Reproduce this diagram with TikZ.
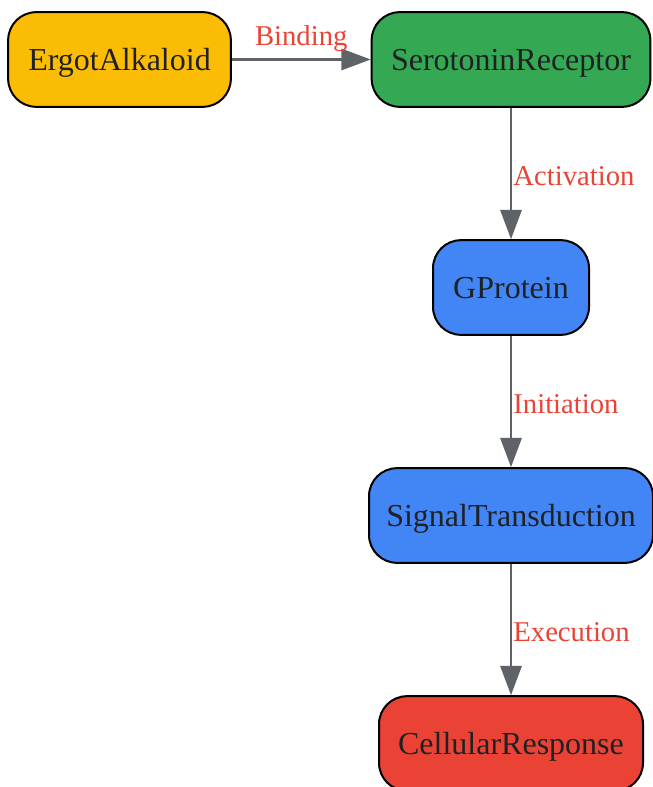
\documentclass[tikz,border=0pt]{standalone}
\usepackage{fontspec}
\setmainfont{Liberation Serif}
\usetikzlibrary{arrows.meta}

\definecolor{ergotyellow}{HTML}{FBBC05}
\definecolor{receptorgreen}{HTML}{34A853}
\definecolor{proteinblue}{HTML}{4285F4}
\definecolor{responsered}{HTML}{EA4335}
\definecolor{edgegray}{HTML}{5F6368}
\definecolor{labelred}{HTML}{EA4335}
\definecolor{txtdark}{HTML}{202124}

\tikzset{every picture/.style={line width=0.75pt}}

\begin{document}
\begin{tikzpicture}[x=0.75pt,y=0.75pt,yscale=-1,xscale=1,
  stepbox/.style={draw=black, line width=1.5pt, rounded corners=21pt, minimum height=71pt, inner sep=0pt, text depth=0pt, text=txtdark, font=\fontsize{24}{28}\selectfont},
  flow/.style={draw=edgegray, line width=1.6pt, -{Triangle[length=22pt,width=16pt]}},
  flowlabel/.style={text=labelred, inner sep=0.5pt, text depth=0pt, font=\fontsize{21.5}{24}\selectfont}]
%set diagram left start at 0, and has height of 787
\useasboundingbox (0,0) rectangle (652,787);

%Shape: Rounded Rect [ergot]
\node [stepbox, fill=ergotyellow, minimum width=167pt] (ergot) at (119.5,59.5) {ErgotAlkaloid};
%Shape: Rounded Rect [receptor]
\node [stepbox, fill=receptorgreen, minimum width=209pt] (receptor) at (511,59.5) {SerotoninReceptor};
%Shape: Rounded Rect [gprotein]
\node [stepbox, fill=proteinblue, minimum width=117pt] (gprotein) at (511,287.5) {GProtein};
%Shape: Rounded Rect [transduction]
\node [stepbox, fill=proteinblue, minimum width=213pt] (transduction) at (511,515.5) {SignalTransduction};
%Shape: Rounded Rect [response]
\node [stepbox, fill=responsered, minimum width=198pt] (response) at (511,743.5) {CellularResponse};

%Straight Lines
\draw [flow] (ergot) -- (receptor) node [flowlabel, midway, above=9.5pt] {Binding};
\draw [flow] (receptor) -- (gprotein) node [flowlabel, midway, right=0.5pt, yshift=-2pt] {Activation};
\draw [flow] (gprotein) -- (transduction) node [flowlabel, midway, right=0.5pt, yshift=-2pt] {Initiation};
\draw [flow] (transduction) -- (response) node [flowlabel, midway, right=0.5pt, yshift=-2pt] {Execution};

\end{tikzpicture}
\end{document}
